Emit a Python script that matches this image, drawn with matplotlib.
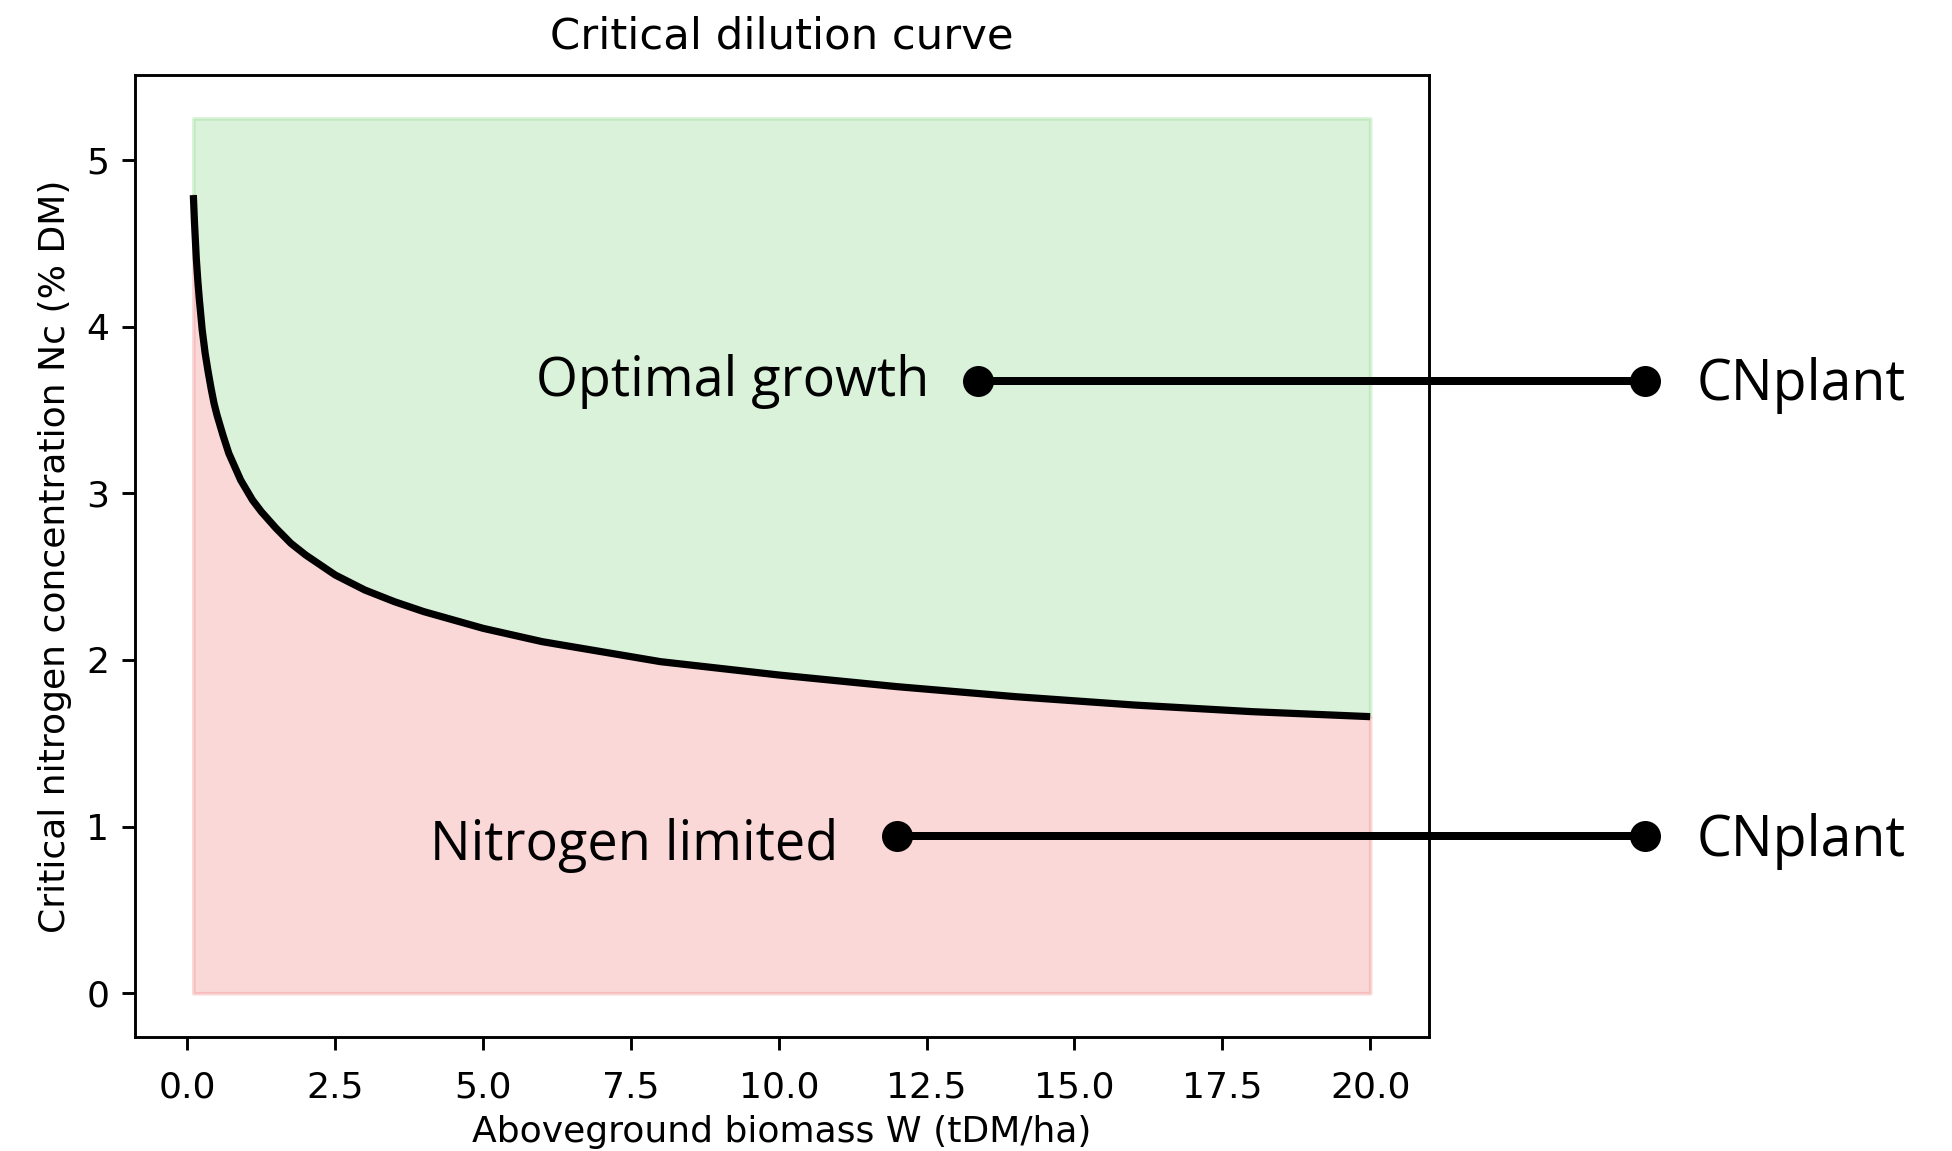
import matplotlib
matplotlib.use("Agg")
import matplotlib.pyplot as plt
from matplotlib.lines import Line2D
import numpy as np

# ---- data ----
biomass_W = [0.1, 0.12, 0.15, 0.175, 0.2, 0.25, 0.3, 0.35, 0.4, 0.45, 0.5, 0.6,
             0.7, 0.8, 0.9, 1.0, 1.1, 1.25, 1.5, 1.75, 2.0, 2.25, 2.5, 3.0, 3.5,
             4.0, 4.5, 5.0, 6.0, 7.0, 8.0, 9.0, 10.0, 12.0, 14.0, 16.0, 18.0, 20.0]
critical_Nc = [4.79, 4.62, 4.41, 4.28, 4.17, 3.98, 3.84, 3.73, 3.63, 3.54, 3.47,
               3.35, 3.24, 3.16, 3.08, 3.02, 2.96, 2.89, 2.79, 2.70, 2.63, 2.57,
               2.51, 2.42, 2.35, 2.29, 2.24, 2.19, 2.11, 2.05, 1.99, 1.95, 1.91,
               1.84, 1.78, 1.73, 1.69, 1.66]
zone_top = 5.25
zone_bottom = 0.0
x_ticks = [0.0, 2.5, 5.0, 7.5, 10.0, 12.5, 15.0, 17.5, 20.0]
x_tick_labels = ["0.0", "2.5", "5.0", "7.5", "10.0", "12.5", "15.0", "17.5", "20.0"]
y_ticks = [0, 1, 2, 3, 4, 5]
y_tick_labels = ["0", "1", "2", "3", "4", "5"]
title = "Critical dilution curve"
x_label = "Aboveground biomass W (tDM/ha)"
y_label = "Critical nitrogen concentration Nc (% DM)"
upper_label = "Optimal growth"
lower_label = "Nitrogen limited"
right_label = "CNplant"

# ---- figure ----
W, H = 1952, 1151
S = 2.6  # scale of the embedded matplotlib chart
fig = plt.figure(figsize=(W / 100, H / 100), dpi=100)
fig.patch.set_facecolor("white")

def fx(px):
    return px / W

def fy(py):
    return 1 - py / H

ax = fig.add_axes([fx(134.5), fy(1037), fx(1429) - fx(134.5), fy(74.7) - fy(1037)])

w = np.array(biomass_W)
nc = np.array(critical_Nc)
ax.fill_between(w, nc, zone_top, color="#87D787", alpha=0.3, linewidth=S * 1.0)
ax.fill_between(w, zone_bottom, nc, color="lightcoral", alpha=0.3, linewidth=S * 1.0)
ax.plot(w, nc, color="black", linewidth=2 * S, solid_capstyle="butt",
        solid_joinstyle="round")

ax.set_xticks(x_ticks)
ax.set_xticklabels(x_tick_labels)
ax.set_yticks(y_ticks)
ax.set_yticklabels(y_tick_labels)
ax.tick_params(labelsize=10 * S, length=3.5 * S, width=0.8 * S, pad=3.5 * S,
               colors="black")
ax.tick_params(axis="x", pad=3.5 * S + 6)
for sp in ax.spines.values():
    sp.set_linewidth(0.8 * S)
ax.set_title(title, fontsize=12 * S, pad=6 * S + 3.5)
ax.set_xlabel(x_label, fontsize=10 * S, labelpad=4 * S - 3)
ax.set_ylabel(y_label, fontsize=10 * S, labelpad=4 * S)

# ---- overlay annotations ----
lw_pt = 8 * 72 / 100
ms_pt = 31 * 72 / 100
for (x0, x1, yy) in [(978, 1645, 380.5), (896.7, 1645, 836)]:
    fig.add_artist(Line2D([fx(x0), fx(x1)], [fy(yy), fy(yy)], transform=fig.transFigure,
                          color="black", linewidth=lw_pt, marker="o", markersize=ms_pt,
                          markerfacecolor="black", markeredgewidth=0, zorder=10))

texts = []
specs = [(upper_label, 536, 928, 396), (lower_label, 430, 837, 860),
         (right_label, 1697, 1906, 400), (right_label, 1697, 1906, 856)]
for (s, xl, xr, yb) in specs:
    t = fig.text(fx(xl), fy(yb), s, fontsize=40, family=["Open Sans", "DejaVu Sans"],
                 ha="left", va="baseline", color="black", zorder=11)
    texts.append((t, xr - xl))

fig.canvas.draw()
r = fig.canvas.get_renderer()
for t, target in texts:
    bb = t.get_window_extent(r)
    t.set_fontsize(40 * target / bb.width)

fig.savefig("out.png", dpi=100, facecolor="white")
